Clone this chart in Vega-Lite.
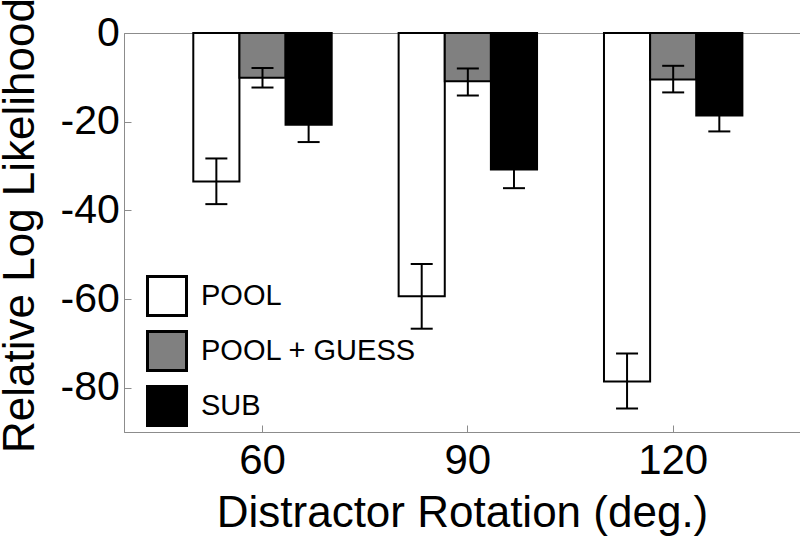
{
  "$schema": "https://vega.github.io/schema/vega-lite/v6.json",
  "width": 676,
  "height": 399,
  "autosize": {"type": "none"},
  "padding": {"left": 124, "top": 33, "right": 0, "bottom": 104},
  "background": "white",
  "config": {
    "view": {"stroke": "#8c8c8c", "strokeWidth": 1},
    "font": "Liberation Sans",
    "axis": {"grid": false, "domainColor": "#8c8c8c", "tickColor": "#8c8c8c", "labelColor": "black", "titleColor": "black", "titleFontWeight": "normal", "labelFont": "Liberation Sans", "titleFont": "Liberation Sans"}
  },
  "data": {
    "values": [
      {"rotation": "60", "model": "POOL", "value": -33.5, "lo": -38.6, "hi": -28.3},
      {"rotation": "60", "model": "POOL + GUESS", "value": -10.1, "lo": -12.3, "hi": -7.9},
      {"rotation": "60", "model": "SUB", "value": -20.7, "lo": -24.6, "hi": -16.8},
      {"rotation": "90", "model": "POOL", "value": -59.4, "lo": -66.7, "hi": -52.1},
      {"rotation": "90", "model": "POOL + GUESS", "value": -10.9, "lo": -14.1, "hi": -8.0},
      {"rotation": "90", "model": "SUB", "value": -30.8, "lo": -35.0, "hi": -26.6},
      {"rotation": "120", "model": "POOL", "value": -78.6, "lo": -84.7, "hi": -72.3},
      {"rotation": "120", "model": "POOL + GUESS", "value": -10.5, "lo": -13.4, "hi": -7.4},
      {"rotation": "120", "model": "SUB", "value": -18.6, "lo": -22.2, "hi": -15.0}
    ]
  },
  "encoding": {
    "x": {
      "field": "rotation",
      "type": "ordinal",
      "sort": ["60", "90", "120"],
      "scale": {"paddingInner": 0.326, "paddingOuter": 0.309, "align": 0.546},
      "axis": {
        "title": "Distractor Rotation (deg.)",
        "titleFontSize": 44,
        "titleBaseline": "alphabetic",
        "titleY": 94.4,
        "labelAngle": 0,
        "labelFontSize": 42,
        "labelBaseline": "alphabetic",
        "tickSize": -7,
        "labelPadding": 48
      }
    },
    "xOffset": {
      "field": "model",
      "type": "nominal",
      "sort": ["POOL", "POOL + GUESS", "SUB"],
      "scale": {"paddingInner": 0, "paddingOuter": 0}
    }
  },
  "layer": [
    {
      "mark": {"type": "bar", "stroke": "black", "strokeWidth": 2},
      "encoding": {
        "y": {
          "field": "value",
          "type": "quantitative",
          "title": "Relative Log Likelihood",
          "scale": {"domain": [-90, 0], "nice": false},
          "axis": {
            "values": [0, -20, -40, -60, -80],
            "labelExpr": "replace(datum.label, '\u2212', '-')",
            "titleFontSize": 44,
            "titleBaseline": "alphabetic",
            "titleAngle": 270,
            "titleAlign": "center",
            "titleX": -91,
            "titleY": 192,
            "labelFontSize": 41,
            "tickSize": -7,
            "labelPadding": 11.7
          }
        },
        "fill": {
          "field": "model",
          "type": "nominal",
          "sort": ["POOL", "POOL + GUESS", "SUB"],
          "scale": {"domain": ["POOL", "POOL + GUESS", "SUB"], "range": ["white", "#808080", "black"]},
          "legend": {
            "title": null,
            "orient": "none",
            "legendX": 22,
            "legendY": 242,
            "padding": 0,
            "symbolType": "square",
            "symbolSize": 1521,
            "symbolStrokeColor": "black",
            "symbolStrokeWidth": 3,
            "symbolOpacity": 1,
            "labelFontSize": 29,
            "labelColor": "black",
            "labelLimit": 0,
            "labelOffset": 13,
            "rowPadding": 3
          }
        }
      }
    },
    {
      "mark": {"type": "rule", "color": "black", "strokeWidth": 2},
      "encoding": {
        "y": {"field": "lo", "type": "quantitative", "title": "Relative Log Likelihood"},
        "y2": {"field": "hi"}
      }
    },
    {
      "mark": {"type": "tick", "color": "black", "thickness": 2, "size": 22, "orient": "horizontal", "opacity": 1},
      "encoding": {
        "y": {"field": "lo", "type": "quantitative", "title": "Relative Log Likelihood"}
      }
    },
    {
      "mark": {"type": "tick", "color": "black", "thickness": 2, "size": 22, "orient": "horizontal", "opacity": 1},
      "encoding": {
        "y": {"field": "hi", "type": "quantitative", "title": "Relative Log Likelihood"}
      }
    }
  ]
}
